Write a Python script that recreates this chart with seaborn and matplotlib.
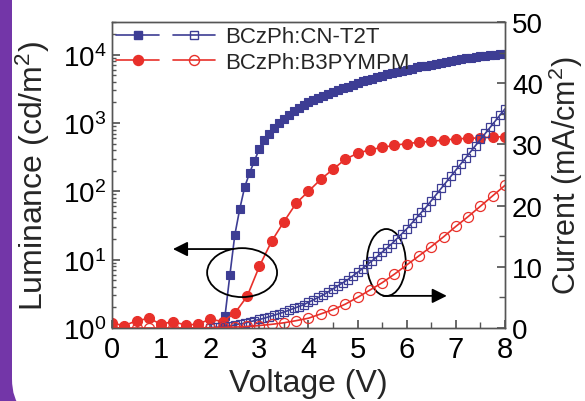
# Luminance / current density vs voltage for two BCzPh based devices
import matplotlib
matplotlib.use("Agg")
import matplotlib.pyplot as plt
import matplotlib.transforms as mtransforms
import seaborn as sns
from matplotlib.lines import Line2D
from matplotlib.patches import Ellipse, FancyBboxPatch
from matplotlib.legend_handler import HandlerTuple
from matplotlib.ticker import MultipleLocator

sns.set_theme(style="ticks")
plt.rcParams["font.family"] = ["Liberation Sans", "DejaVu Sans"]
plt.rcParams["mathtext.fontset"] = "custom"
plt.rcParams["mathtext.rm"] = "Liberation Sans"
plt.rcParams["mathtext.it"] = "Liberation Sans:italic"
plt.rcParams["mathtext.bf"] = "Liberation Sans:bold"

# ---- data ----
labels = ["BCzPh:CN-T2T", "BCzPh:B3PYMPM"]

# CN-T2T luminance (cd/m2), 0.1 V steps
volt_cn_lum = [2.2, 2.3, 2.4, 2.5, 2.6, 2.7, 2.8, 2.9, 3.0, 3.1, 3.2, 3.3, 3.4, 3.5, 3.6,
               3.7, 3.8, 3.9, 4.0, 4.1, 4.2, 4.3, 4.4, 4.5, 4.6, 4.7, 4.8, 4.9, 5.0, 5.1,
               5.2, 5.3, 5.4, 5.5, 5.6, 5.7, 5.8, 5.9, 6.0, 6.1, 6.2, 6.3, 6.4, 6.5, 6.6,
               6.7, 6.8, 6.9, 7.0, 7.1, 7.2, 7.3, 7.4, 7.5, 7.6, 7.7, 7.8, 7.9, 8.0]
lum_cn = [0.8, 1.5, 6, 23, 55, 115, 185, 280, 420, 560, 700, 850, 1000, 1130, 1300,
          1480, 1680, 1850, 2020, 2180, 2340, 2500, 2680, 2860, 3030, 3200, 3380, 3560, 3800, 4050,
          4250, 4450, 4680, 4900, 5120, 5350, 5580, 5800, 6000, 6250, 6480, 6700, 6920, 7150, 7380,
          7600, 7850, 8100, 8400, 8650, 8850, 9050, 9250, 9450, 9650, 9850, 10000, 10150, 10300]

# CN-T2T current density (mA/cm2), 0.1 V steps
volt_cn_cur = [2.0, 2.1, 2.2, 2.3, 2.4, 2.5, 2.6, 2.7, 2.8, 2.9, 3.0, 3.1, 3.2, 3.3, 3.4,
               3.5, 3.6, 3.7, 3.8, 3.9, 4.0, 4.1, 4.2, 4.3, 4.4, 4.5, 4.6, 4.7, 4.8, 4.9,
               5.0, 5.1, 5.2, 5.3, 5.4, 5.5, 5.6, 5.7, 5.8, 5.9, 6.0, 6.1, 6.2, 6.3, 6.4,
               6.5, 6.6, 6.7, 6.8, 6.9, 7.0, 7.1, 7.2, 7.3, 7.4, 7.5, 7.6, 7.7, 7.8, 7.9, 8.0]
cur_cn = [0.05, 0.1, 0.15, 0.25, 0.35, 0.5, 0.65, 0.8, 1.0, 1.2, 1.4, 1.6, 1.85, 2.1, 2.35,
          2.6, 2.9, 3.2, 3.5, 3.8, 4.2, 4.6, 5.0, 5.4, 5.9, 6.4, 6.9, 7.4, 7.9, 8.5,
          9.1, 9.7, 10.4, 11.0, 11.7, 12.4, 13.1, 13.8, 14.6, 15.4, 16.2, 17.1, 18.0, 18.9, 19.8,
          20.8, 21.8, 22.8, 23.8, 24.8, 25.8, 26.8, 27.8, 28.8, 29.8, 30.8, 31.8, 32.8, 33.8, 34.8, 35.8]

# B3PYMPM, 0.25 V steps
volt_b3 = [0.0, 0.25, 0.5, 0.75, 1.0, 1.25, 1.5, 1.75, 2.0, 2.25, 2.5, 2.75, 3.0, 3.25, 3.5,
           3.75, 4.0, 4.25, 4.5, 4.75, 5.0, 5.25, 5.5, 5.75, 6.0, 6.25, 6.5, 6.75, 7.0, 7.25,
           7.5, 7.75, 8.0]
lum_b3 = [1.18, 1.08, 1.28, 1.38, 1.14, 1.24, 1.1, 1.14, 1.35, 1.24, 1.65, 2.9, 8.0, 18.6, 36,
          67, 100, 150, 210, 295, 360, 405, 440, 470, 500, 520, 540, 560, 585, 595,
          605, 620, 630]
cur_b3 = [0.0, 0.0, 0.0, 0.0, 0.0, 0.01, 0.02, 0.03, 0.05, 0.1, 0.15, 0.25, 0.4, 0.6, 0.85,
          1.2, 1.6, 2.3, 3.0, 3.9, 5.0, 6.2, 7.4, 8.8, 10.3, 11.8, 13.3, 14.9, 16.6, 18.2,
          19.9, 21.6, 23.3]

BLUE = "#3d3d94"
RED = "#e8302a"
PURPLE = "#7336a8"
SPINE = "#555555"
MS_SQ = 5.6
MS_CI = 7.2

fig = plt.figure(figsize=(5.85, 4.02), dpi=100)
fig.patch.set_facecolor(PURPLE)

# white rounded panel over the purple frame (pixel coordinates)
px = mtransforms.Affine2D().scale(1 / 585, 1 / 402) + fig.transFigure
panel = FancyBboxPatch((12, -18), 700, 500, boxstyle="round,pad=0,rounding_size=40",
                       transform=px, facecolor="white", edgecolor="none", zorder=-1)
fig.add_artist(panel)

ax = fig.add_axes([0.1915, 0.1816, 0.6717, 0.7612])
ax2 = ax.twinx()

# luminance (left, log)
sns.lineplot(x=volt_cn_lum, y=lum_cn, ax=ax, color=BLUE, marker="s", markersize=MS_SQ,
             markerfacecolor=BLUE, markeredgecolor=BLUE, markeredgewidth=0.8, linewidth=1.2)
sns.lineplot(x=volt_b3, y=lum_b3, ax=ax, color=RED, marker="o", markersize=MS_CI,
             markerfacecolor=RED, markeredgecolor=RED, markeredgewidth=0.8, linewidth=1.2)

# current density (right, linear)
sns.lineplot(x=volt_cn_cur, y=cur_cn, ax=ax2, color=BLUE, marker="s", markersize=MS_SQ,
             markerfacecolor="none", markeredgecolor=BLUE, markeredgewidth=0.9, linewidth=1.2)
sns.lineplot(x=volt_b3, y=cur_b3, ax=ax2, color=RED, marker="o", markersize=MS_CI,
             markerfacecolor="none", markeredgecolor=RED, markeredgewidth=0.9, linewidth=1.2)

ax.set_yscale("log")
ax.set_xlim(0, 8)
ax.set_ylim(1, 3e4)
ax2.set_ylim(0, 50)
ax.xaxis.set_major_locator(MultipleLocator(1))
ax.xaxis.set_minor_locator(MultipleLocator(0.5))
ax2.yaxis.set_major_locator(MultipleLocator(10))
ax2.yaxis.set_minor_locator(MultipleLocator(5))

for a in (ax, ax2):
    for s in a.spines.values():
        s.set_color(SPINE)
        s.set_linewidth(1.0)

ax.tick_params(axis="x", which="both", direction="in", bottom=True, top=False,
               colors=SPINE, labelcolor="black", labelsize=21, pad=5)
ax.tick_params(axis="x", which="major", length=6)
ax.tick_params(axis="x", which="minor", length=4)
ax.tick_params(axis="y", which="both", direction="in", left=True, right=False,
               colors=SPINE, labelcolor="black", labelsize=20, pad=4)
ax.tick_params(axis="y", which="major", length=6)
ax.tick_params(axis="y", which="minor", length=3)
ax2.tick_params(axis="y", which="both", direction="in", right=True, left=False,
                colors=SPINE, labelcolor="black", labelsize=20, pad=5)
ax2.tick_params(axis="y", which="major", length=6)
ax2.tick_params(axis="y", which="minor", length=4)

ax.set_xlabel("Voltage (V)", fontsize=23, labelpad=4)
ax.set_ylabel("Luminance (cd/m$^\\mathregular{2}$)", fontsize=23, labelpad=8)
ax2.set_ylabel("Current (mA/cm$^\\mathregular{2}$)", fontsize=22, labelpad=3)

# ellipses + arrows marking which axis each set belongs to
ax.add_patch(Ellipse((0.331, 0.181), 0.178, 0.160, transform=ax.transAxes,
                     fill=False, edgecolor="black", linewidth=1.3, zorder=6))
ax.add_patch(Ellipse((0.698, 0.214), 0.099, 0.219, transform=ax.transAxes,
                     fill=False, edgecolor="black", linewidth=1.3, zorder=6))
arrow = dict(arrowstyle="-|>", color="black", lw=1.3, mutation_scale=22,
             shrinkA=0, shrinkB=0)
ax.annotate("", xy=(0.155, 0.258), xytext=(0.308, 0.258),
            xycoords="axes fraction", textcoords="axes fraction", arrowprops=arrow)
ax.annotate("", xy=(0.852, 0.105), xytext=(0.690, 0.105),
            xycoords="axes fraction", textcoords="axes fraction", arrowprops=arrow)

# legend: filled (luminance) and open (current) marker for each device
h_cn = (Line2D([], [], color=BLUE, marker="s", ms=MS_SQ, mfc=BLUE, mec=BLUE, lw=1.2),
        Line2D([], [], color=BLUE, marker="s", ms=MS_SQ, mfc="none", mec=BLUE, lw=1.2))
h_b3 = (Line2D([], [], color=RED, marker="o", ms=MS_CI, mfc=RED, mec=RED, lw=1.2),
        Line2D([], [], color=RED, marker="o", ms=MS_CI, mfc="none", mec=RED, lw=1.2))
leg = ax2.legend([h_cn, h_b3], labels, handler_map={tuple: HandlerTuple(ndivide=None, pad=0.65)},
                 loc="upper left", bbox_to_anchor=(0, 1), frameon=False, fontsize=16,
                 handlelength=4.45, numpoints=1, borderaxespad=0.0, borderpad=0.2,
                 labelspacing=0.2, handletextpad=0.45)

fig.savefig("out.png", dpi=100, facecolor=fig.get_facecolor())
